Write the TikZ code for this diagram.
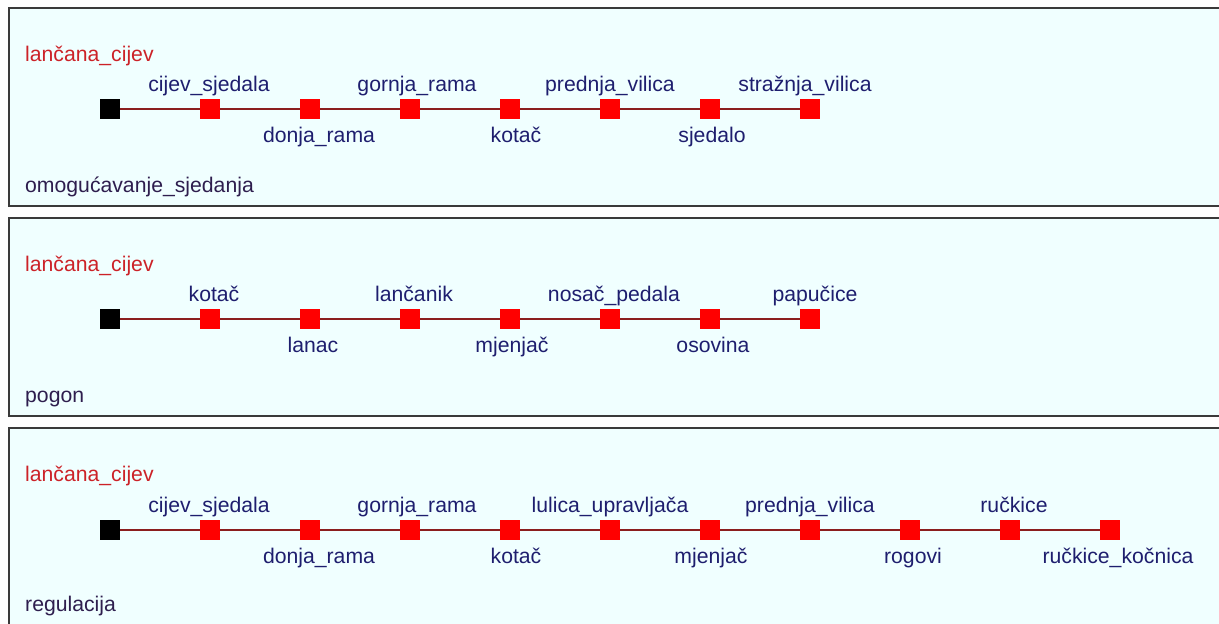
\documentclass[tikz,border=0pt]{standalone}
\usepackage{fontspec}
\setmainfont{Liberation Sans}
\definecolor{panelbg}{HTML}{F0FFFF}
\definecolor{panelborder}{HTML}{3A3A3A}
\definecolor{titlered}{HTML}{CC2228}
\definecolor{labnavy}{HTML}{1E1E6E}
\definecolor{namecol}{HTML}{2E1E4E}
\definecolor{linkcol}{HTML}{8B1E1E}
\tikzset{
  panel/.style={draw=panelborder, line width=1.6pt, fill=panelbg},
  sqbox/.style={shape=rectangle, minimum size=20pt, inner sep=0pt, fill=red, draw=none},
  rootbox/.style={shape=rectangle, minimum size=20pt, inner sep=0pt, fill=black, draw=none},
  link/.style={draw=linkcol, line width=1.3pt},
  titlelab/.style={anchor=base west, inner sep=0pt, text=titlered},
  uplab/.style={anchor=base, inner sep=0pt, text=labnavy},
  downlab/.style={anchor=base, inner sep=0pt, text=labnavy},
  namelab/.style={anchor=base west, inner sep=0pt, text=namecol}
}
\begin{document}
\begin{tikzpicture}[x=1pt, y=-1pt, font=\fontsize{21.2}{24}\selectfont]
\useasboundingbox (0,0) rectangle (1219,624);
\clip (0,0) rectangle (1219,624);
\fill[white] (0,0) rectangle (1219,624);

% ---------- panel 1 ----------
\begin{scope}[shift={(0,8)}]
\draw[panel] (9,0) rectangle (1240,198);
\node[titlelab] (a-title) at (25,53) {lančana\_cijev};
\node[rootbox] (a0) at (110,101) {};
\foreach \i in {1,...,7} \node[sqbox] (a\i) at (110+100*\i,101) {};
\draw[link] (a0) -- (a1) -- (a2) -- (a3) -- (a4) -- (a5) -- (a6) -- (a7);
\node[uplab] (la1) at (209,83) {cijev\_sjedala};
\node[downlab] (la2) at (319,134) {donja\_rama};
\node[uplab] (la3) at (417,83) {gornja\_rama};
\node[downlab] (la4) at (516,134) {kotač};
\node[uplab] (la5) at (610,83) {prednja\_vilica};
\node[downlab] (la6) at (712,134) {sjedalo};
\node[uplab] (la7) at (805,83) {stražnja\_vilica};
\node[namelab] (a-name) at (25,184) {omogućavanje\_sjedanja};
\end{scope}

% ---------- panel 2 ----------
\begin{scope}[shift={(0,218)}]
\draw[panel] (9,0) rectangle (1240,198);
\node[titlelab] (b-title) at (25,53) {lančana\_cijev};
\node[rootbox] (b0) at (110,101) {};
\foreach \i in {1,...,7} \node[sqbox] (b\i) at (110+100*\i,101) {};
\draw[link] (b0) -- (b1) -- (b2) -- (b3) -- (b4) -- (b5) -- (b6) -- (b7);
\node[uplab] (lb1) at (214,83) {kotač};
\node[downlab] (lb2) at (313,134) {lanac};
\node[uplab] (lb3) at (414,83) {lančanik};
\node[downlab] (lb4) at (512,134) {mjenjač};
\node[uplab] (lb5) at (614,83) {nosač\_pedala};
\node[downlab] (lb6) at (713,134) {osovina};
\node[uplab] (lb7) at (815,83) {papučice};
\node[namelab] (b-name) at (25,184) {pogon};
\end{scope}

% ---------- panel 3 ----------
\begin{scope}[shift={(0,428)}]
\draw[panel] (9,0) rectangle (1240,240);
\node[titlelab] (c-title) at (25,53) {lančana\_cijev};
\node[rootbox] (c0) at (110,102) {};
\foreach \i in {1,...,10} \node[sqbox] (c\i) at (110+100*\i,102) {};
\draw[link] (c0) -- (c1) -- (c2) -- (c3) -- (c4) -- (c5) -- (c6) -- (c7) -- (c8) -- (c9) -- (c10);
\node[uplab] (lc1) at (209,84) {cijev\_sjedala};
\node[downlab] (lc2) at (319,135) {donja\_rama};
\node[uplab] (lc3) at (417,84) {gornja\_rama};
\node[downlab] (lc4) at (516,135) {kotač};
\node[uplab] (lc5) at (610,84) {lulica\_upravljača};
\node[downlab] (lc6) at (711,135) {mjenjač};
\node[uplab] (lc7) at (810,84) {prednja\_vilica};
\node[downlab] (lc8) at (913,135) {rogovi};
\node[uplab] (lc9) at (1014,84) {ručkice};
\node[downlab] (lc10) at (1118,135) {ručkice\_kočnica};
\node[namelab] (c-name) at (25,183) {regulacija};
\end{scope}
\end{tikzpicture}
\end{document}
